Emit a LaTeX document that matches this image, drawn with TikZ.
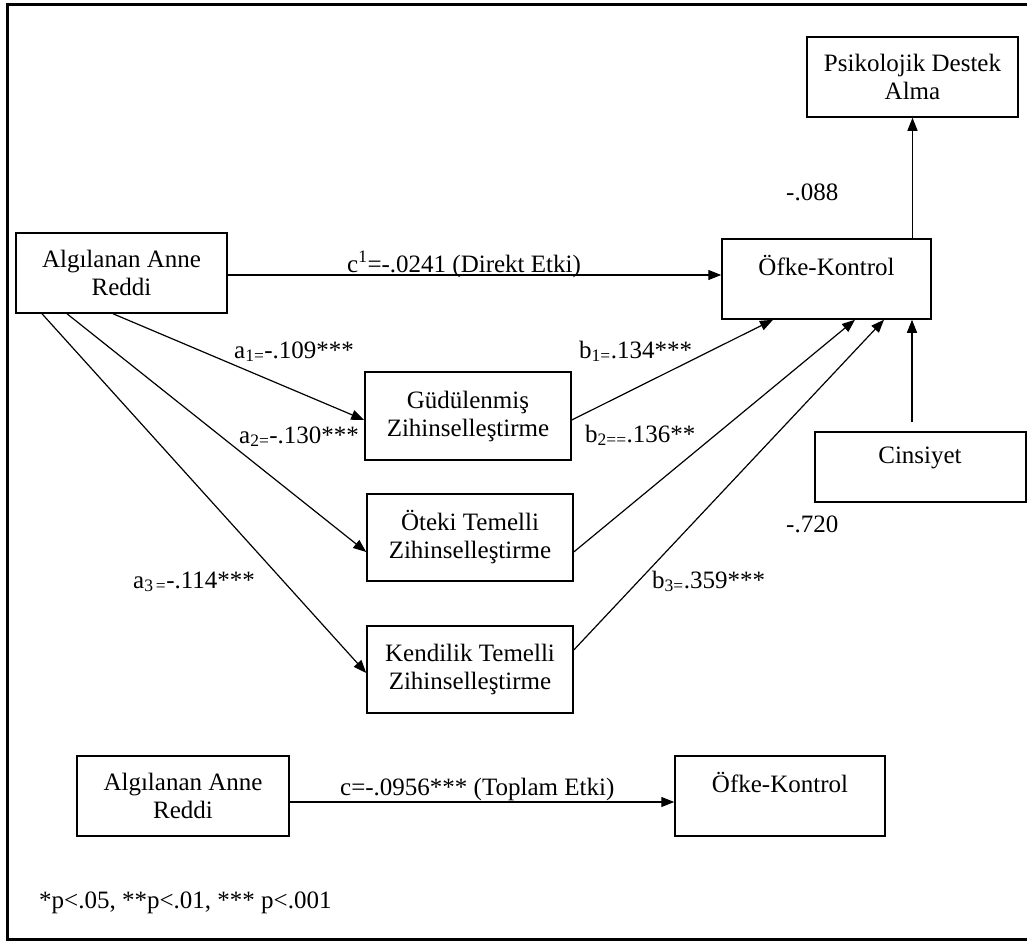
\documentclass[tikz,border=0pt]{standalone}
\usepackage{fontspec}
\setmainfont{Liberation Serif}
\usetikzlibrary{arrows.meta}

\begin{document}
\begin{tikzpicture}[x=1pt,y=-1pt,
  box/.style={draw, line width=1.5pt, minimum width=#1, inner sep=0pt, align=center},
  arr/.style={line width=1.2pt, -{Triangle[length=13pt,width=10pt]}},
  lbl/.style={anchor=base west, inner sep=0pt},
  every node/.style={font=\fontsize{25}{28}\selectfont}]
\useasboundingbox (0,0) rectangle (1027,942);
\fill[white] (0,0) rectangle (1027,942);
% outer frame
\draw[line width=3pt] (7,5) rectangle (1030,939);

% upper model boxes
\node[box=211pt, minimum height=80pt] (psi) at (912.5,77) {Psikolojik Destek\\Alma};
\node[box=211pt, minimum height=80pt] (alg) at (121.5,273) {Algılanan Anne\\Reddi};
\node[box=209pt, minimum height=80pt] (ofke) at (826.5,279) {Öfke-Kontrol\\~};
\node[box=206pt, minimum height=88pt] (gud) at (468,416) {Güdülenmiş\\Zihinselleştirme};
\node[box=206pt, minimum height=87pt] (otk) at (470,537.5) {Öteki Temelli\\Zihinselleştirme};
\node[box=206pt, minimum height=87pt] (knd) at (470,669.5) {Kendilik Temelli\\Zihinselleştirme};
\node[box=211pt, minimum height=70pt] (cins) at (920.5,467) {};
\node[inner sep=0pt] (cinstxt) at (920,458) {Cinsiyet};

% lower (total effect) model boxes
\node[box=212pt, minimum height=80pt] (algb) at (183,796) {Algılanan Anne\\Reddi};
\node[box=210pt, minimum height=80pt] (ofkeb) at (780,796) {Öfke-Kontrol\\~};

% connectors
\draw[arr] (alg.east |- 0,275) -- (ofke.west |- 0,275);
\draw[arr] (ofke.north -| psi.south) -- (psi.south);
\draw[arr, shorten <=9pt] (cins.north -| 912,0) -- (ofke.south -| 912,0);

\draw[arr] (alg.south -| 113,0) -- (gud.west |- 0,420);
\draw[arr] (alg.south -| 67,0) -- (otk.west |- 0,552);
\draw[arr] (alg.south -| 42,0) -- (knd.west |- 0,673);

\draw[arr] (gud.east |- 0,420) -- (ofke.south -| 773,0);
\draw[arr] (otk.east |- 0,552) -- (ofke.south -| 855,0);
\draw[arr] (knd.east |- 0,650) -- (ofke.south -| 884,0);

\draw[arr] (algb.east |- 0,802) -- (ofkeb.west |- 0,802);

% path coefficients
\node[lbl] (lc1) at (347,272) {c\textsuperscript{1}=-.0241 (Direkt Etki)};
\node[lbl] (lpsi) at (786,200) {-.088};
\node[lbl] (lcin) at (786,532) {-.720};
\node[lbl] (la1) at (234,358) {a\textsubscript{1=}-.109***};
\node[lbl] (la2) at (239,443) {a\textsubscript{2=}-.130***};
\node[lbl] (la3) at (133,588) {a\textsubscript{3\,=}-.114***};
\node[lbl] (lb1) at (579,358) {b\textsubscript{1=}.134***};
\node[lbl] (lb2) at (585,442) {b\textsubscript{2==}.136**};
\node[lbl] (lb3) at (652,588) {b\textsubscript{3=}.359***};
\node[lbl] (lc) at (340,795) {c=-.0956*** (Toplam Etki)};

% significance note
\node[lbl] (note) at (39,908) {*p<.05, **p<.01, *** p<.001};
\end{tikzpicture}
\end{document}
